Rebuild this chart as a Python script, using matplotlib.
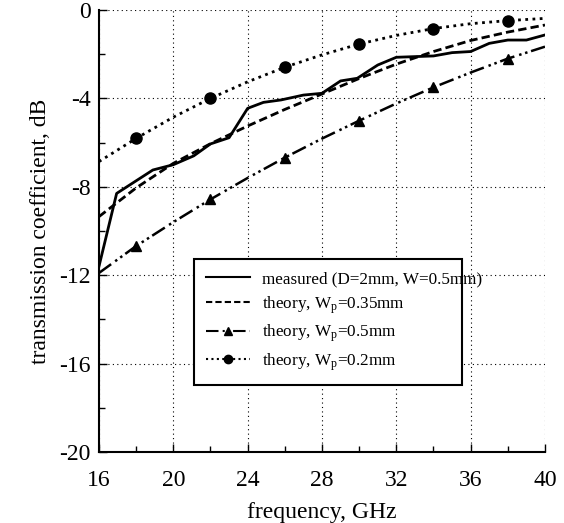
import numpy as np
import matplotlib
matplotlib.use("Agg")
import matplotlib.pyplot as plt
from matplotlib.ticker import MultipleLocator

plt.rcParams['font.family'] = 'Liberation Serif'
plt.rcParams['mathtext.fontset'] = 'custom'
plt.rcParams['mathtext.rm'] = 'Liberation Serif'
plt.rcParams['mathtext.it'] = 'Liberation Serif:italic'
plt.rcParams['axes.unicode_minus'] = False

# measured transmission
freq_meas = [16, 16.95, 18.9, 20, 21.1, 22, 23, 24, 24.85, 25.8, 27, 28, 29, 29.9,
             31, 32, 34, 35, 36, 37, 38, 39, 40]
meas = [-11.6, -8.3, -7.24, -7.0, -6.6, -6.06, -5.78, -4.45, -4.18, -4.07, -3.85, -3.77,
        -3.21, -3.09, -2.49, -2.14, -2.08, -1.93, -1.88, -1.51, -1.36, -1.36, -1.13]

# theory curves
freq_th = [16, 18, 20, 22, 24, 26, 28, 30, 32, 34, 36, 38, 40]
th_035 = [-9.35, -8.05, -6.94, -6.05, -5.25, -4.5, -3.8, -3.1, -2.45, -1.88, -1.38, -1.0, -0.68]
th_05 = [-11.9, -10.68, -9.6, -8.57, -7.6, -6.68, -5.82, -5.01, -4.23, -3.5, -2.83, -2.2, -1.66]
th_02 = [-6.86, -5.81, -4.85, -4.0, -3.25, -2.59, -2.03, -1.54, -1.15, -0.84, -0.62, -0.48, -0.38]

fig = plt.figure(figsize=(5.64, 5.23), dpi=100)
ax = fig.add_axes([0.1755, 0.1358, 0.7908, 0.8451])

ax.plot(freq_meas, meas, color='black', lw=2, label='measured (D=2mm, W=0.5mm)')
ax.plot(freq_th, th_035, color='black', lw=2, dashes=(3, 1.5),
        label=r'theory, W$_\mathrm{p}$=0.35mm')
ax.plot(freq_th, th_05, color='black', lw=1.8, dashes=(6, 2, 1, 1.5, 1, 1.5),
        marker='^', ms=7, markevery=[1, 3, 5, 7, 9, 11],
        label=r'theory, W$_\mathrm{p}$=0.5mm')
ax.plot(freq_th, th_02, color='black', lw=2, dashes=(1, 1.6),
        marker='o', ms=8, markevery=[1, 3, 5, 7, 9, 11],
        label=r'theory, W$_\mathrm{p}$=0.2mm')

ax.set_xlim(16, 40)
ax.set_ylim(-20, 0)
ax.xaxis.set_major_locator(MultipleLocator(4))
ax.xaxis.set_minor_locator(MultipleLocator(2))
ax.yaxis.set_major_locator(MultipleLocator(4))
ax.yaxis.set_minor_locator(MultipleLocator(2))
ax.tick_params(which='both', direction='in', labelsize=17, width=1)
ax.tick_params(which='major', length=6)
ax.tick_params(which='minor', length=4)
ax.tick_params(axis='x', pad=13)
ax.tick_params(axis='y', pad=6)

ax.grid(True, which='major', color='black', linestyle=(0, (1, 3)), lw=0.8)
ax.spines['top'].set_visible(False)
ax.spines['right'].set_visible(False)
ax.spines['left'].set_linewidth(1.5)
ax.spines['bottom'].set_linewidth(1.5)

ax.set_xlabel('frequency, GHz', fontsize=17, labelpad=8)
ax.set_ylabel('transmission coefficient, dB', fontsize=17, labelpad=6)

leg = ax.legend(loc='lower left', bbox_to_anchor=(0.193, 0.133, 0.641, 0.222),
                mode='expand', fontsize=12.3, frameon=True, fancybox=False,
                edgecolor='black', framealpha=1, handlelength=2.6,
                labelspacing=0.4, borderpad=0.7, handletextpad=0.7,
                markerscale=0.75)
leg.get_frame().set_linewidth(1.5)
for line in leg.get_lines():
    line.set_linewidth(1.5)

fig.savefig('out.png', dpi=100)
